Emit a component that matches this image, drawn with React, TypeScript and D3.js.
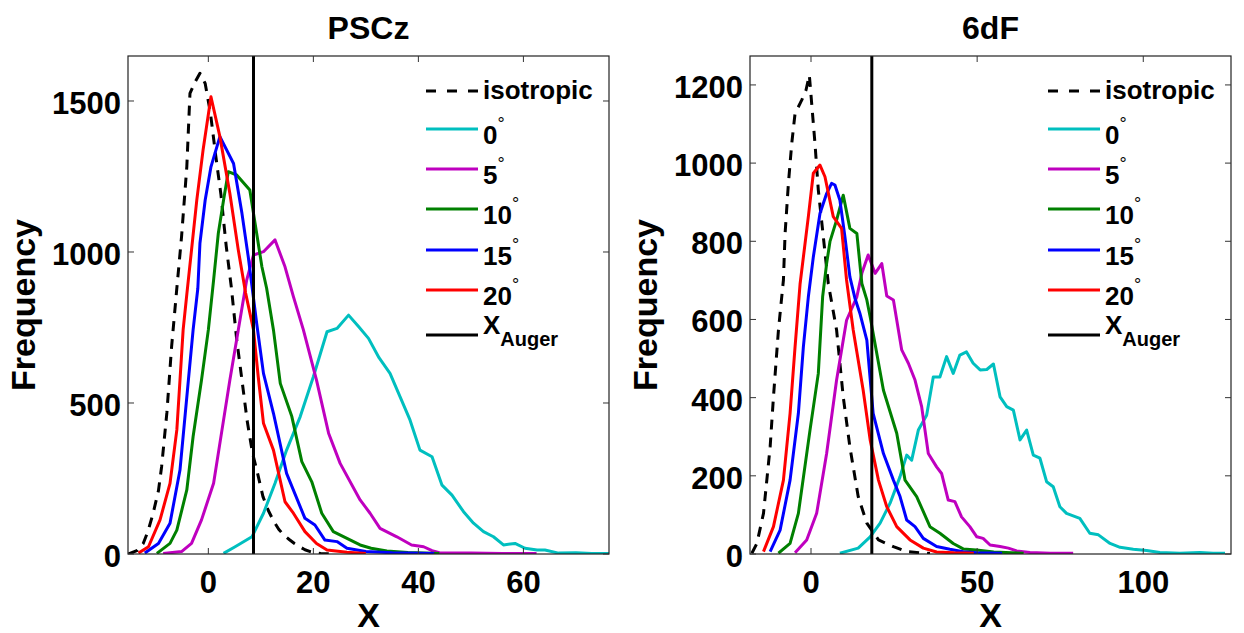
import React from "react";
import * as d3 from "d3";

type P = [number, number];

// ---------- PSCz panel data (X, frequency) ----------
const psczIsotropic: P[] = [[-15.2,0],[-13.5,12],[-12.4,35],[-11.5,75],[-10.5,136],[-9.5,210],[-8.9,289],[-7.9,467],[-7,686],[-6,880],[-5.1,1051],[-4.1,1282],[-3.5,1525],[-2.5,1564],[-1.6,1592],[-0.6,1558],[0.4,1460],[1.4,1320],[2.4,1190],[3.4,1020],[4.4,880],[5.4,710],[6.4,576],[7.4,440],[8.4,335],[9.4,265],[10.4,190],[11.4,145],[12.4,110],[13.4,82],[14.4,62],[15.4,48],[16.4,35],[17.4,24],[18.4,14],[19.4,8],[20.4,4],[21.4,2],[22.4,1],[24,0]];
const pscz0: P[] = [[2.9,2],[5.1,24],[8.3,57],[10.5,135],[12.7,234],[14.9,344],[17.5,455],[20,587],[22.6,736],[24.5,747],[26.7,791],[28.6,753],[30.5,714],[32.5,650],[34.6,598],[36.5,521],[38.4,444],[40.3,344],[42.6,322],[44.5,228],[46.4,195],[48.6,140],[50.5,102],[52.4,74],[54.3,57],[56.2,30],[58.4,35],[60.3,19],[62.6,13],[64.1,13],[66.7,3],[70,4],[73,2],[76.3,2]];
const pscz5: P[] = [[-8.6,2],[-5.1,8],[-3.2,35],[-1.3,113],[1,234],[2.6,411],[4.1,576],[5.7,742],[7.3,907],[8.6,990],[10.5,1001],[12.7,1040],[14.6,951],[16.2,852],[18.1,742],[20.6,576],[22.9,400],[25.1,300],[28.9,179],[30.8,135],[32.7,85],[35.9,57],[38.7,30],[41,24],[42.6,11],[44,4],[50,3],[56,2],[62.5,2]];
const pscz10: P[] = [[-9.8,2],[-7.3,35],[-6,79],[-4.1,212],[-2.9,389],[-1.3,576],[0,742],[1,907],[1.9,1062],[2.9,1172],[3.8,1266],[5.4,1255],[7.9,1205],[9.2,1062],[10.2,951],[11.1,880],[12.4,742],[13.7,565],[15.9,455],[17.8,306],[19.7,239],[21.6,135],[23.8,74],[26.4,52],[28.9,30],[31,19],[34,10],[38,5],[44,2]];
const pscz15: P[] = [[-12.1,3],[-9.5,35],[-7.3,102],[-5.4,278],[-3.8,576],[-2.9,742],[-2,880],[-1.6,1029],[-0.6,1172],[0.5,1282],[2.2,1382],[4.8,1293],[6.4,1128],[7.6,984],[8.6,847],[9.2,764],[10.5,598],[12.4,466],[14.9,267],[18.4,118],[20.3,96],[22.2,46],[24.5,41],[26.4,19],[30,8],[35,4],[43,2]];
const pscz20: P[] = [[-13.3,3],[-11.4,24],[-9.2,113],[-7.3,234],[-6,411],[-5.4,576],[-4.8,742],[-4.1,860],[-3.2,1007],[-2.2,1172],[-1,1338],[0.5,1514],[2.2,1382],[4.1,1194],[5.7,1007],[7.1,864],[8.6,742],[9.5,587],[10.5,433],[12.4,344],[14.6,173],[16.2,135],[18.4,74],[20.6,35],[22.6,13],[26.4,6],[30,2]];
const psczAuger = 8.6;
const psczXTicks = [0, 20, 40, 60];
const psczYTicks = [0, 500, 1000, 1500];
const psczXDomain: [number, number] = [-15.3, 76.3];
const psczYDomain: [number, number] = [0, 1649];

// ---------- 6dF panel data ----------
const sixdfIsotropic: P[] = [[-17.8,2],[-16.3,27],[-14.3,104],[-12.3,274],[-11.3,402],[-9.8,573],[-8.3,701],[-7.8,820],[-6.8,948],[-5.8,1050],[-4.8,1127],[-2.8,1161],[-1.5,1187],[-0.5,1225],[0.2,1153],[1.2,1050],[2.2,931],[3.7,812],[5.2,692],[7.7,573],[9.7,402],[11.7,274],[14.2,147],[16.8,79],[20.3,36],[24.8,19],[28.8,6],[35.8,1]];
const sixdf0: P[] = [[8.7,2],[14.2,15],[17.8,44],[20.8,79],[23.8,130],[26.8,198],[28.8,253],[30.3,240],[32.3,317],[34.8,355],[36.8,453],[38.8,453],[40.8,505],[42.8,462],[44.8,509],[46.8,517],[48.8,488],[50.9,471],[52.9,472],[54.9,486],[56.9,402],[58.9,377],[60.9,368],[62.9,292],[64.9,317],[66.9,253],[68.9,245],[70.9,185],[72.9,172],[74.9,121],[76.9,104],[80.9,91],[83.9,53],[86.5,49],[90,27],[93,17],[97,12],[101,9],[105,4],[111,2],[117,4],[121,2],[124.6,2]];
const sixdf5: P[] = [[-4.8,3],[-1.3,36],[1.7,104],[4.7,257],[7.7,445],[10.7,598],[13.8,658],[15.3,718],[17.2,765],[19.3,718],[21.3,743],[22.8,660],[24.8,650],[27.3,522],[29.3,488],[31.3,445],[33.3,377],[35.3,257],[37.8,223],[39.3,206],[41.3,138],[43.3,134],[45.3,95],[47.8,70],[49.9,44],[51.8,40],[53.9,23],[56.9,19],[59.4,15],[61.9,8],[65.9,4],[72,2],[78.9,2]];
const sixdf10: P[] = [[-9.8,2],[-6.3,27],[-3.8,104],[-0.3,317],[2.2,462],[3.5,658],[4.7,743],[5.7,799],[7.7,854],[9.7,918],[11.7,833],[13.8,820],[15.3,692],[16.8,650],[17.8,607],[21.8,419],[25.8,309],[28.3,189],[31.8,147],[35.8,70],[38.8,53],[42.8,27],[45.8,13],[49.8,10],[55,5],[64,2]];
const sixdf15: P[] = [[-12.3,6],[-9.3,61],[-6.3,189],[-3.8,360],[-2.3,530],[-0.8,658],[0.7,760],[2.7,871],[4.7,922],[6.2,948],[7.2,944],[8.7,905],[10.2,812],[11.7,709],[13.2,655],[14.7,616],[16.8,547],[18.7,360],[21.8,257],[24.8,189],[26.8,147],[28.8,87],[31.3,70],[33.8,40],[37.8,19],[41.8,12],[45.8,6],[50,3],[57.5,2]];
const sixdf20: P[] = [[-14.3,6],[-11.3,70],[-8.3,189],[-6.3,360],[-4.8,530],[-3.3,690],[-0.8,863],[0.7,974],[2.7,995],[4.2,965],[6.7,863],[9.2,833],[10.7,701],[12.7,573],[15.7,419],[17.8,292],[20.3,189],[22.8,121],[25.8,70],[29.8,36],[33.8,15],[37.8,5],[43,3],[49,2]];
const sixdfAuger = 18.3;
const sixdfXTicks = [0, 50, 100];
const sixdfYTicks = [0, 200, 400, 600, 800, 1000, 1200];
const sixdfXDomain: [number, number] = [-18.36, 126.4];
const sixdfYDomain: [number, number] = [0, 1274];

const angleLabels = ["0", "5", "10", "15", "20"];
const seriesColors = ["#00BFBF", "#BF00BF", "#008000", "#0000FF", "#FF0000"];

const FONT = "'Liberation Sans', Arial, Helvetica, sans-serif";

interface PanelProps {
  id: string;
  title: string;
  left: number;
  iso: P[];
  series: P[][];
  auger: number;
  xTicks: number[];
  yTicks: number[];
  xDomain: [number, number];
  yDomain: [number, number];
}

const TOP = 56;
const BOTTOM = 554;
const WIDTH = 481;

function Panel(p: PanelProps) {
  const x = d3.scaleLinear().domain(p.xDomain).range([p.left, p.left + WIDTH]);
  const y = d3.scaleLinear().domain(p.yDomain).range([BOTTOM, TOP]);
  const line = d3
    .line<P>()
    .x((d) => x(d[0]))
    .y((d) => y(d[1]));
  const right = p.left + WIDTH;
  const cx = p.left + WIDTH / 2;
  const legX0 = right - 183;
  const legX1 = legX0 + 52;
  const legT = legX1 + 5;
  const rows = [91, 129, 169, 209, 250, 290, 335];
  return (
    <g>
      <defs>
        <clipPath id={p.id}>
          <rect x={p.left} y={TOP} width={WIDTH} height={BOTTOM - TOP} />
        </clipPath>
      </defs>
      <rect x={p.left} y={TOP} width={WIDTH} height={BOTTOM - TOP} fill="#fff" />
      <g clipPath={`url(#${p.id})`} fill="none" strokeLinejoin="round">
        <path d={line(p.iso) || ""} stroke="#000" strokeWidth={3} strokeDasharray="10,8" />
        {p.series.map((s, i) => (
          <path key={i} d={line(s) || ""} stroke={seriesColors[i]} strokeWidth={3} />
        ))}
        <line x1={x(p.auger)} x2={x(p.auger)} y1={TOP} y2={BOTTOM} stroke="#000" strokeWidth={3} />
      </g>
      {/* axes box */}
      <rect x={p.left} y={TOP} width={WIDTH} height={BOTTOM - TOP} fill="none" stroke="#222" strokeWidth={1.2} />
      {p.xTicks.map((t) => (
        <g key={"x" + t}>
          <line x1={x(t)} x2={x(t)} y1={BOTTOM} y2={BOTTOM - 6} stroke="#333" strokeWidth={1} />
          <line x1={x(t)} x2={x(t)} y1={TOP} y2={TOP + 6} stroke="#333" strokeWidth={1} />
          <text x={x(t)} y={BOTTOM + 39} textAnchor="middle" fontSize={31} fontWeight="bold" fontFamily={FONT}>
            {t}
          </text>
        </g>
      ))}
      {p.yTicks.map((t) => (
        <g key={"y" + t}>
          <line x1={p.left} x2={p.left + 6} y1={y(t)} y2={y(t)} stroke="#333" strokeWidth={1} />
          <line x1={right} x2={right - 6} y1={y(t)} y2={y(t)} stroke="#333" strokeWidth={1} />
          <text x={p.left - 7} y={y(t) + 13} textAnchor="end" fontSize={31} fontWeight="bold" fontFamily={FONT}>
            {t}
          </text>
        </g>
      ))}
      <text x={cx} y={39} textAnchor="middle" fontSize={32} fontWeight="bold" fontFamily={FONT}>
        {p.title}
      </text>
      <text x={cx} y={627} textAnchor="middle" fontSize={34} fontWeight="bold" fontFamily={FONT}>
        X
      </text>
      <text
        transform={`translate(${p.left - 93.5},${(TOP + BOTTOM) / 2}) rotate(-90)`}
        textAnchor="middle"
        fontSize={34}
        fontWeight="bold"
        fontFamily={FONT}
      >
        Frequency
      </text>
      {/* legend */}
      <g fontFamily={FONT} fontWeight="bold" fontSize={26}>
        <line x1={legX0} x2={legX1} y1={rows[0]} y2={rows[0]} stroke="#000" strokeWidth={3} strokeDasharray="10,11" />
        <text x={legT} y={rows[0] + 8}>isotropic</text>
        {angleLabels.map((a, i) => (
          <g key={a}>
            <line x1={legX0} x2={legX1} y1={rows[i + 1]} y2={rows[i + 1]} stroke={seriesColors[i]} strokeWidth={3} />
            <text x={legT} y={rows[i + 1] + 15}>
              {a}
              <tspan fontSize={18} fontWeight="normal" dy={-14}>°</tspan>
            </text>
          </g>
        ))}
        <line x1={legX0} x2={legX1} y1={rows[6]} y2={rows[6]} stroke="#000" strokeWidth={3} />
        <text x={legT} y={rows[6] - 1}>
          X<tspan fontSize={20} dy={12}>Auger</tspan>
        </text>
      </g>
    </g>
  );
}

export default function App() {
  return (
    <svg
      width={1244}
      height={633}
      viewBox="0 0 1244 633"
      style={{ position: "absolute", left: 0, top: 0, background: "#fff" }}
    >
      <rect width={1244} height={633} fill="#fff" />
      <Panel
        id="clipPscz"
        title="PSCz"
        left={128}
        iso={psczIsotropic}
        series={[pscz0, pscz5, pscz10, pscz15, pscz20]}
        auger={psczAuger}
        xTicks={psczXTicks}
        yTicks={psczYTicks}
        xDomain={psczXDomain}
        yDomain={psczYDomain}
      />
      <Panel
        id="clip6dF"
        title="6dF"
        left={750}
        iso={sixdfIsotropic}
        series={[sixdf0, sixdf5, sixdf10, sixdf15, sixdf20]}
        auger={sixdfAuger}
        xTicks={sixdfXTicks}
        yTicks={sixdfYTicks}
        xDomain={sixdfXDomain}
        yDomain={sixdfYDomain}
      />
    </svg>
  );
}
